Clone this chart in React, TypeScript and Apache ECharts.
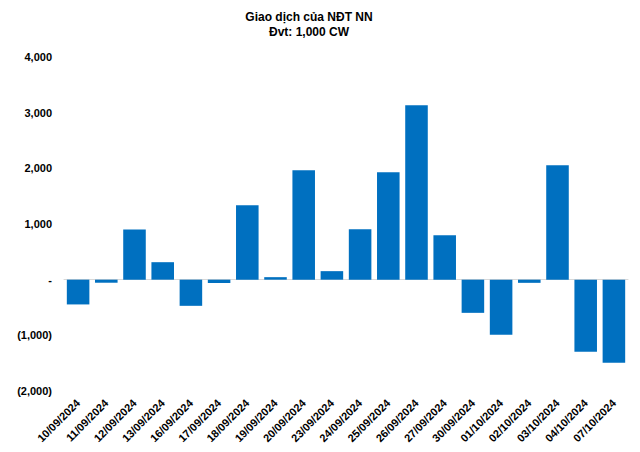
import React, { useEffect, useRef } from "react";
import * as echarts from "echarts";

const categories = [
  "10/09/2024", "11/09/2024", "12/09/2024", "13/09/2024", "16/09/2024",
  "17/09/2024", "18/09/2024", "19/09/2024", "20/09/2024", "23/09/2024",
  "24/09/2024", "25/09/2024", "26/09/2024", "27/09/2024", "30/09/2024",
  "01/10/2024", "02/10/2024", "03/10/2024", "04/10/2024", "07/10/2024",
];
const values = [
  -445, -55, 900, 314, -470,
  -60, 1337, 45, 1966, 153,
  906, 1930, 3133, 800, -596,
  -990, -57, 2055, -1296, -1493,
];
const titleLines = ["Giao dịch của NĐT NN", "Đvt: 1,000 CW"];

function fmt(v: number): string {
  if (v === 0) return "-";
  const s = Math.abs(v).toLocaleString("en-US");
  return v < 0 ? `(${s})` : s;
}

export default function App() {
  const ref = useRef<HTMLDivElement>(null);
  useEffect(() => {
    const chart = echarts.init(ref.current!, null, { renderer: "svg" });
    chart.setOption({
      animation: false,
      backgroundColor: "#ffffff",
      title: {
        text: titleLines.join("\n"),
        left: 304,
        textAlign: "center",
        top: 4,
        textStyle: {
          fontFamily: "Liberation Sans, Arial, sans-serif",
          fontSize: 12,
          fontWeight: "bold",
          color: "#000",
          lineHeight: 15,
        },
      },
      grid: { left: 64, right: 12, top: 57, bottom: 61, containLabel: false },
      xAxis: {
        type: "category",
        data: categories,
        axisLine: { onZero: true, lineStyle: { color: "#d9d9d9", width: 1 } },
        axisTick: { show: false },
        axisLabel: {
          rotate: 45,
          interval: 0,
          fontFamily: "Liberation Sans, Arial, sans-serif",
          fontSize: 11,
          fontWeight: "bold",
          color: "#000",
          margin: 10,
        },
        position: "bottom",
      },
      yAxis: {
        type: "value",
        min: -2000,
        max: 4000,
        interval: 1000,
        axisLine: { show: false },
        axisTick: { show: false },
        splitLine: { show: false },
        axisLabel: {
          formatter: (v: number) => fmt(v),
          fontFamily: "Liberation Sans, Arial, sans-serif",
          fontSize: 11,
          fontWeight: "bold",
          color: "#000",
          margin: 12,
        },
      },
      series: [
        {
          type: "bar",
          data: values,
          barCategoryGap: "20%",
          itemStyle: { color: "#0070C0" },
        },
      ],
    });
    return () => chart.dispose();
  }, []);
  return <div ref={ref} style={{ width: 640, height: 452, position: "absolute", left: 0, top: 0 }} />;
}
